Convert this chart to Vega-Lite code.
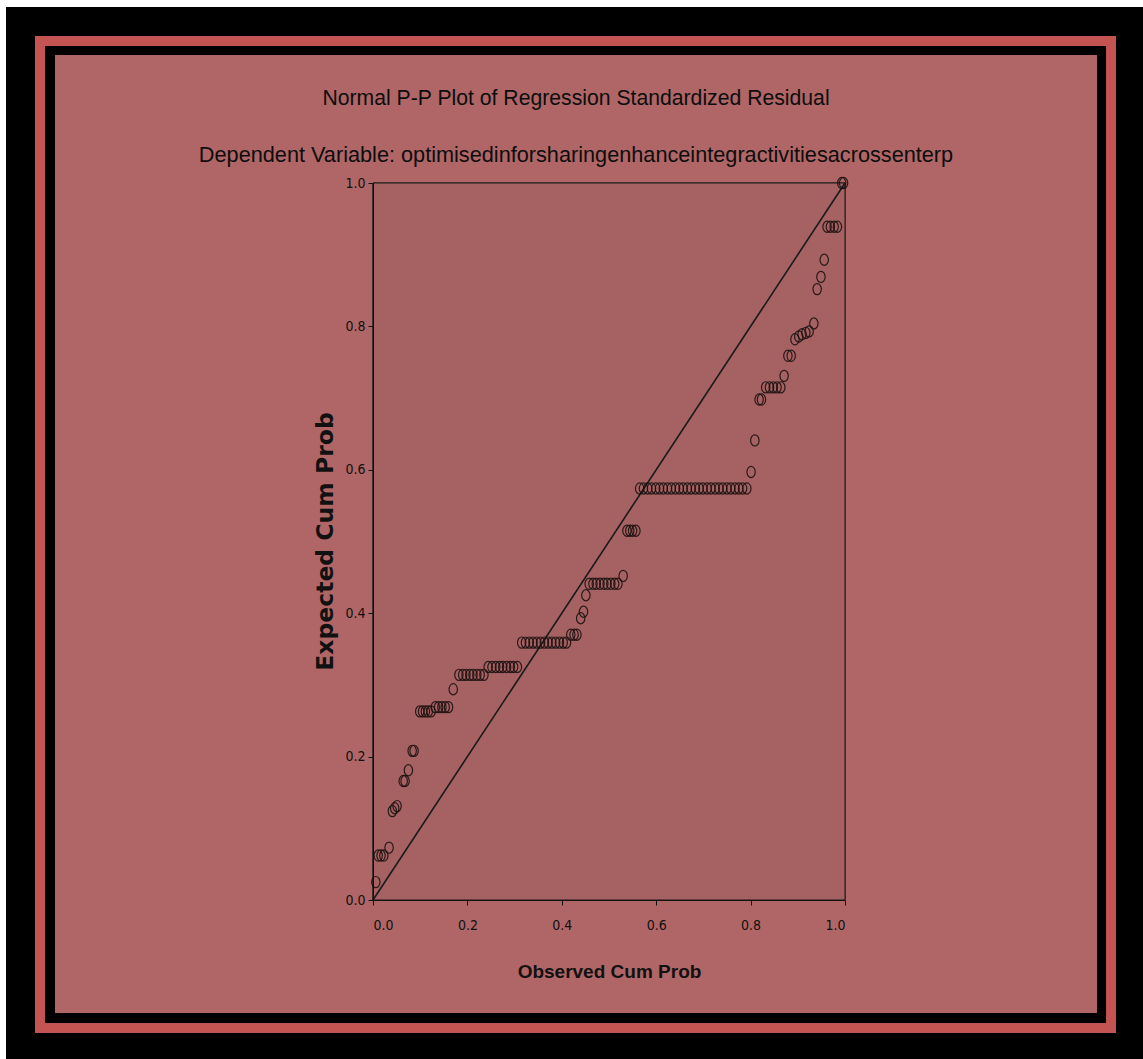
{
  "$schema": "https://vega.github.io/schema/vega-lite/v6.json",
  "width": 472,
  "height": 717,
  "autosize": {"type": "none"},
  "padding": {"left": 373, "top": 183, "right": 298, "bottom": 159},
  "background": "#ffffff",
  "config": {
    "view": {"stroke": null},
    "axis": {"grid": false, "domainColor": "#111111", "tickColor": "#111111", "tickSize": 5, "labelColor": "#111111", "labelFont": "DejaVu Sans Condensed, Liberation Sans, sans-serif", "labelFontSize": 14, "titleColor": "#111111"}
  },
  "title": {
    "text": "Normal P-P Plot of Regression Standardized Residual",
    "subtitle": "Dependent Variable: optimisedinforsharingenhanceintegractivitiesacrossenterp",
    "font": "Liberation Sans, sans-serif",
    "subtitleFont": "Liberation Sans, sans-serif",
    "fontSize": 21.2,
    "subtitleFontSize": 21.7,
    "fontWeight": "normal",
    "color": "#0d0d0d",
    "subtitleColor": "#0d0d0d",
    "subtitlePadding": 36,
    "anchor": "middle",
    "dx": -33,
    "offset": -160,
    "zindex": 2
  },
  "datasets": {
    "diag": [{"observed": 0, "expected": 0}, {"observed": 1, "expected": 1}],
    "pts": [
      {"observed": 0.006, "expected": 0.025},
      {"observed": 0.011, "expected": 0.062},
      {"observed": 0.017, "expected": 0.062},
      {"observed": 0.023, "expected": 0.062},
      {"observed": 0.034, "expected": 0.073},
      {"observed": 0.041, "expected": 0.124},
      {"observed": 0.046, "expected": 0.128},
      {"observed": 0.051, "expected": 0.131},
      {"observed": 0.064, "expected": 0.166},
      {"observed": 0.068, "expected": 0.166},
      {"observed": 0.075, "expected": 0.181},
      {"observed": 0.083, "expected": 0.208},
      {"observed": 0.087, "expected": 0.208},
      {"observed": 0.099, "expected": 0.263},
      {"observed": 0.105, "expected": 0.263},
      {"observed": 0.111, "expected": 0.263},
      {"observed": 0.117, "expected": 0.263},
      {"observed": 0.123, "expected": 0.263},
      {"observed": 0.132, "expected": 0.269},
      {"observed": 0.139, "expected": 0.269},
      {"observed": 0.146, "expected": 0.269},
      {"observed": 0.153, "expected": 0.269},
      {"observed": 0.160, "expected": 0.269},
      {"observed": 0.170, "expected": 0.294},
      {"observed": 0.182, "expected": 0.314},
      {"observed": 0.190, "expected": 0.314},
      {"observed": 0.197, "expected": 0.314},
      {"observed": 0.205, "expected": 0.314},
      {"observed": 0.212, "expected": 0.314},
      {"observed": 0.220, "expected": 0.314},
      {"observed": 0.227, "expected": 0.314},
      {"observed": 0.235, "expected": 0.314},
      {"observed": 0.244, "expected": 0.325},
      {"observed": 0.252, "expected": 0.325},
      {"observed": 0.260, "expected": 0.325},
      {"observed": 0.268, "expected": 0.325},
      {"observed": 0.275, "expected": 0.325},
      {"observed": 0.283, "expected": 0.325},
      {"observed": 0.291, "expected": 0.325},
      {"observed": 0.298, "expected": 0.325},
      {"observed": 0.306, "expected": 0.325},
      {"observed": 0.315, "expected": 0.359},
      {"observed": 0.323, "expected": 0.359},
      {"observed": 0.331, "expected": 0.359},
      {"observed": 0.339, "expected": 0.359},
      {"observed": 0.347, "expected": 0.359},
      {"observed": 0.355, "expected": 0.359},
      {"observed": 0.363, "expected": 0.359},
      {"observed": 0.371, "expected": 0.359},
      {"observed": 0.379, "expected": 0.359},
      {"observed": 0.387, "expected": 0.359},
      {"observed": 0.395, "expected": 0.359},
      {"observed": 0.403, "expected": 0.359},
      {"observed": 0.410, "expected": 0.359},
      {"observed": 0.419, "expected": 0.370},
      {"observed": 0.426, "expected": 0.370},
      {"observed": 0.432, "expected": 0.370},
      {"observed": 0.440, "expected": 0.393},
      {"observed": 0.446, "expected": 0.402},
      {"observed": 0.451, "expected": 0.425},
      {"observed": 0.458, "expected": 0.441},
      {"observed": 0.466, "expected": 0.441},
      {"observed": 0.473, "expected": 0.441},
      {"observed": 0.481, "expected": 0.441},
      {"observed": 0.489, "expected": 0.441},
      {"observed": 0.496, "expected": 0.441},
      {"observed": 0.504, "expected": 0.441},
      {"observed": 0.512, "expected": 0.441},
      {"observed": 0.519, "expected": 0.441},
      {"observed": 0.530, "expected": 0.452},
      {"observed": 0.538, "expected": 0.515},
      {"observed": 0.544, "expected": 0.515},
      {"observed": 0.550, "expected": 0.515},
      {"observed": 0.557, "expected": 0.515},
      {"observed": 0.565, "expected": 0.574},
      {"observed": 0.573, "expected": 0.574},
      {"observed": 0.582, "expected": 0.574},
      {"observed": 0.590, "expected": 0.574},
      {"observed": 0.599, "expected": 0.574},
      {"observed": 0.607, "expected": 0.574},
      {"observed": 0.615, "expected": 0.574},
      {"observed": 0.624, "expected": 0.574},
      {"observed": 0.632, "expected": 0.574},
      {"observed": 0.641, "expected": 0.574},
      {"observed": 0.649, "expected": 0.574},
      {"observed": 0.657, "expected": 0.574},
      {"observed": 0.666, "expected": 0.574},
      {"observed": 0.674, "expected": 0.574},
      {"observed": 0.683, "expected": 0.574},
      {"observed": 0.691, "expected": 0.574},
      {"observed": 0.699, "expected": 0.574},
      {"observed": 0.708, "expected": 0.574},
      {"observed": 0.716, "expected": 0.574},
      {"observed": 0.725, "expected": 0.574},
      {"observed": 0.733, "expected": 0.574},
      {"observed": 0.741, "expected": 0.574},
      {"observed": 0.750, "expected": 0.574},
      {"observed": 0.758, "expected": 0.574},
      {"observed": 0.767, "expected": 0.574},
      {"observed": 0.775, "expected": 0.574},
      {"observed": 0.783, "expected": 0.574},
      {"observed": 0.792, "expected": 0.574},
      {"observed": 0.801, "expected": 0.597},
      {"observed": 0.809, "expected": 0.641},
      {"observed": 0.818, "expected": 0.698},
      {"observed": 0.823, "expected": 0.698},
      {"observed": 0.832, "expected": 0.715},
      {"observed": 0.840, "expected": 0.715},
      {"observed": 0.848, "expected": 0.715},
      {"observed": 0.856, "expected": 0.715},
      {"observed": 0.864, "expected": 0.715},
      {"observed": 0.871, "expected": 0.731},
      {"observed": 0.879, "expected": 0.759},
      {"observed": 0.886, "expected": 0.759},
      {"observed": 0.894, "expected": 0.782},
      {"observed": 0.902, "expected": 0.786},
      {"observed": 0.909, "expected": 0.789},
      {"observed": 0.917, "expected": 0.791},
      {"observed": 0.924, "expected": 0.793},
      {"observed": 0.934, "expected": 0.804},
      {"observed": 0.941, "expected": 0.852},
      {"observed": 0.949, "expected": 0.869},
      {"observed": 0.956, "expected": 0.893},
      {"observed": 0.962, "expected": 0.939},
      {"observed": 0.969, "expected": 0.939},
      {"observed": 0.977, "expected": 0.939},
      {"observed": 0.984, "expected": 0.939},
      {"observed": 0.993, "expected": 1.0},
      {"observed": 0.997, "expected": 1.0}
    ]
  },
  "layer": [
    {
      "data": {"name": "diag"},
      "mark": {"type": "rect", "color": "#000000"},
      "encoding": {
        "x": {"datum": -0.7775, "type": "quantitative", "scale": {"domain": [0, 1], "nice": false}, "title": "Observed Cum Prob"},
        "x2": {"datum": 1.6314},
        "y": {"datum": 1.2455, "type": "quantitative", "scale": {"domain": [0, 1], "nice": false}, "title": "Expected Cum Prob"},
        "y2": {"datum": -0.2218}
      }
    },
    {
      "data": {"name": "diag"},
      "mark": {"type": "rect", "color": "#c45452"},
      "encoding": {
        "x": {"datum": -0.7161, "type": "quantitative", "scale": {"domain": [0, 1], "nice": false}, "title": "Observed Cum Prob"},
        "x2": {"datum": 1.5742},
        "y": {"datum": 1.2050, "type": "quantitative", "scale": {"domain": [0, 1], "nice": false}, "title": "Expected Cum Prob"},
        "y2": {"datum": -0.1855}
      }
    },
    {
      "data": {"name": "diag"},
      "mark": {"type": "rect", "color": "#000000"},
      "encoding": {
        "x": {"datum": -0.6949, "type": "quantitative", "scale": {"domain": [0, 1], "nice": false}, "title": "Observed Cum Prob"},
        "x2": {"datum": 1.5530},
        "y": {"datum": 1.1911, "type": "quantitative", "scale": {"domain": [0, 1], "nice": false}, "title": "Expected Cum Prob"},
        "y2": {"datum": -0.1715}
      }
    },
    {
      "data": {"name": "diag"},
      "mark": {"type": "rect", "color": "#b06666"},
      "encoding": {
        "x": {"datum": -0.6737, "type": "quantitative", "scale": {"domain": [0, 1], "nice": false}, "title": "Observed Cum Prob"},
        "x2": {"datum": 1.5339},
        "y": {"datum": 1.1785, "type": "quantitative", "scale": {"domain": [0, 1], "nice": false}, "title": "Expected Cum Prob"},
        "y2": {"datum": -0.1576}
      }
    },
    {
      "data": {"name": "diag"},
      "mark": {"type": "rect", "fill": "#a66262", "stroke": "#1a1a1a", "strokeWidth": 1},
      "encoding": {
        "x": {"datum": 0, "type": "quantitative", "scale": {"domain": [0, 1], "nice": false}, "title": "Observed Cum Prob"},
        "x2": {"datum": 1},
        "y": {"datum": 0, "type": "quantitative", "scale": {"domain": [0, 1], "nice": false}, "title": "Expected Cum Prob"},
        "y2": {"datum": 1}
      }
    },
    {
      "data": {"name": "diag"},
      "mark": {"type": "line", "color": "#1a1a1a", "strokeWidth": 1.6},
      "encoding": {
        "x": {"field": "observed", "type": "quantitative", "scale": {"domain": [0, 1], "nice": false}, "title": "Observed Cum Prob"},
        "y": {"field": "expected", "type": "quantitative", "scale": {"domain": [0, 1], "nice": false}, "title": "Expected Cum Prob"}
      }
    },
    {
      "data": {"name": "pts"},
      "mark": {"type": "point", "filled": false, "stroke": "#1e1212", "strokeWidth": 1.2, "opacity": 0.9, "size": 125, "shape": "M0,-1 A0.75,1 0 1,1 0,1 A0.75,1 0 1,1 0,-1 Z"},
      "encoding": {
        "x": {
          "field": "observed", "type": "quantitative",
          "scale": {"domain": [0, 1], "nice": false},
          "title": "Observed Cum Prob",
          "axis": {"zindex": 2, "values": [0, 0.2, 0.4, 0.6, 0.8, 1.0], "format": ".1f", "labelPadding": 13, "titleFont": "Liberation Sans, sans-serif", "titleFontSize": 19, "titleFontWeight": "bold", "titleX": 236, "titleY": 71, "titleBaseline": "middle"}
        },
        "y": {
          "field": "expected", "type": "quantitative",
          "scale": {"domain": [0, 1], "nice": false},
          "title": "Expected Cum Prob",
          "axis": {"zindex": 2, "values": [0, 0.2, 0.4, 0.6, 0.8, 1.0], "format": ".1f", "labelPadding": 3, "titleFont": "DejaVu Sans, sans-serif", "titleFontSize": 23.5, "titleFontWeight": "bold", "titleX": -48, "titleY": 358, "titleAngle": 270, "titleBaseline": "middle", "titleAlign": "center"}
        }
      }
    }
  ]
}
